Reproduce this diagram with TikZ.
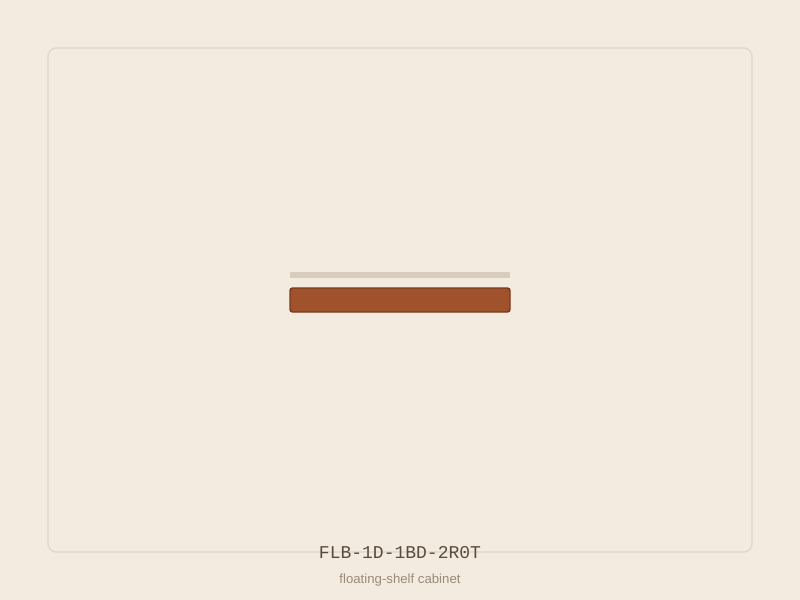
\documentclass[tikz,border=0pt]{standalone}
\usepackage{fontspec}
\setmainfont{Liberation Sans}
\newfontfamily\codefont{Liberation Mono}
\definecolor{bgc}{HTML}{F3EBDF}
\definecolor{framec}{HTML}{E0D7CA}
\definecolor{shelfgray}{HTML}{D7CCBD}
\definecolor{woodfill}{HTML}{A0522D}
\definecolor{woodedge}{HTML}{7A3A1C}
\definecolor{titlec}{HTML}{5A4B3C}
\definecolor{subc}{HTML}{9A8B7C}
\tikzset{
  px/.style={x=0.75pt,y=-0.75pt},
  frame/.style={draw=framec,line width=0.9pt,rounded corners=6pt},
  topbar/.style={fill=shelfgray,draw=none},
  shelfbar/.style={fill=woodfill,draw=woodedge,line width=1.1pt,rounded corners=2pt},
  title/.style={text=titlec,font=\codefont\fontsize{13.5}{15}\selectfont,inner sep=0pt},
  subtitle/.style={text=subc,font=\fontsize{9.9}{11}\selectfont,inner sep=0pt}
}
\begin{document}
\begin{tikzpicture}[px]
\fill[bgc] (0,0) rectangle (800,600);
\useasboundingbox (0,0) rectangle (800,600);
\draw[frame] (48,48) rectangle (752,552);
\fill[topbar] (290,272) rectangle (510,277.5);
\draw[shelfbar] (290,288) rectangle (510,312);
\node[title] (t) at (400,553) {FLB-1D-1BD-2R0T};
\node[subtitle] (s) at (400,580.5) {floating-shelf cabinet};
\end{tikzpicture}
\end{document}
